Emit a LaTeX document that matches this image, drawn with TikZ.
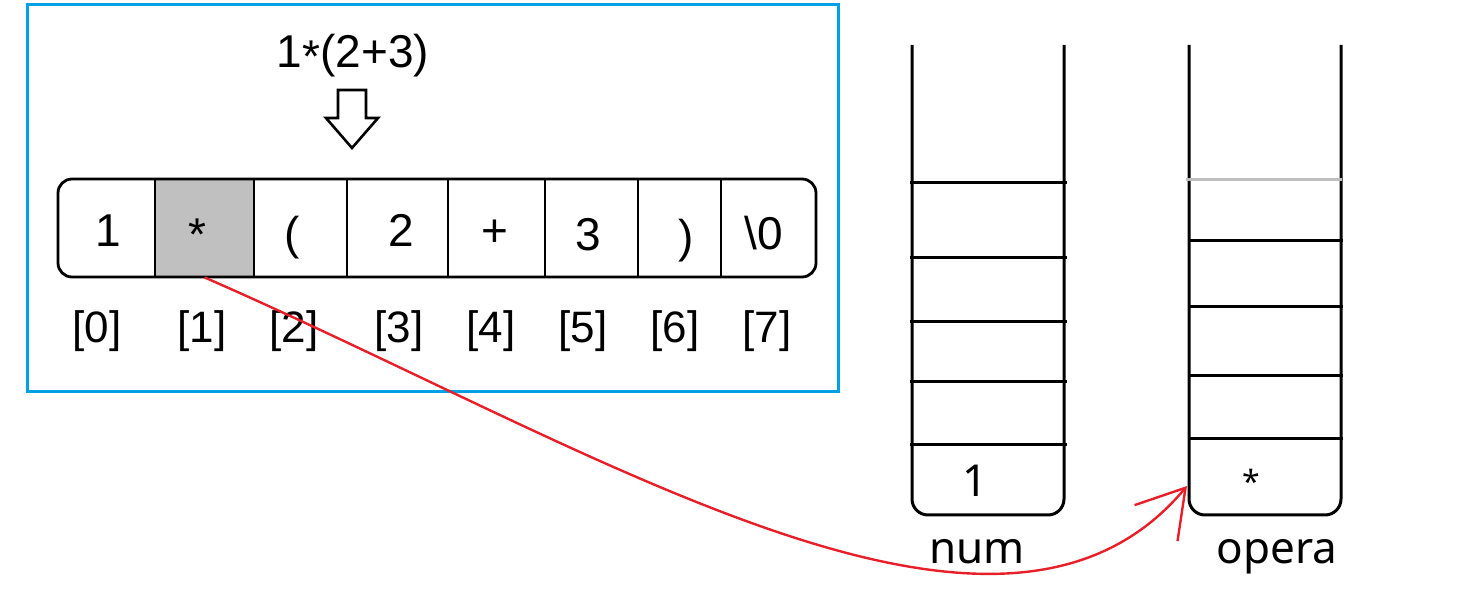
\documentclass[tikz,border=0pt]{standalone}
\usepackage{fontspec}
\setmainfont{Liberation Sans}
\newfontfamily\stackfont{Noto Sans}
\usepackage{tikz}
\usetikzlibrary{arrows.meta}
\definecolor{frameblue}{RGB}{0,160,230}
\definecolor{cellgray}{RGB}{192,192,192}
\definecolor{linkred}{RGB}{232,30,40}
\definecolor{topgray}{RGB}{190,190,190}

\begin{document}
\begin{tikzpicture}[
  x=0.5pt, y=-0.5pt,
  txt/.style={anchor=base, inner sep=0pt, font=\fontsize{23}{23}\selectfont},
  idx/.style={anchor=base, inner sep=0pt, font=\fontsize{22}{22}\selectfont},
  stk/.style={anchor=base, inner sep=0pt, font=\stackfont\fontsize{22}{22}\selectfont},
  boxline/.style={draw, line width=1.4pt},
  stackline/.style={line width=1.5pt}
]
\useasboundingbox (0,0) rectangle (1464,614);

% frame round the char array
\draw[frameblue, line width=1.5pt] (27,5) rectangle (838,392);
\node[txt] (expr) at (353,68) {1\raisebox{-0.1em}{*}(2+3)};
\draw[line width=1.3pt] (338,90) -- (366,90) -- (366,118) -- (378,118)
  -- (352,148) -- (326,118) -- (338,118) -- cycle;

% the array
\node[fill=cellgray, minimum width=49.5pt, minimum height=49pt, inner sep=0pt] (cell1) at (204.5,228) {};
\draw[boxline, rounded corners=7pt] (58,179) rectangle (816,277);
\foreach \x in {155,254,347,448,545,638,721}
  \draw[boxline] (\x,179) -- (\x,277);
\foreach \i/\x/\y/\t in {0/108/247/1, 1/197/251/{*}, 2/292/250/{(}, 3/401/247/2,
    4/495/247/+, 5/588/251/3, 6/686/253/{)}, 7/764/250/{\textbackslash 0}}
  \node[txt] (c\i) at (\x,\y) {\t};
\foreach \i/\x in {0/97,1/202,2/294,3/399,4/491,5/583,6/675,7/767}
  \node[idx] (i\i) at (\x,343) {[\i]};

% stack num
\draw[stackline, rounded corners=8pt] (912,45) |- (1064,515) -- (1064,45);
\foreach \y in {183,258,322,382,445}
  \draw[stackline] (910,\y) -- (1067,\y);
\node[stk] (numtop) at (975,497) {1};
\node[stk] (numname) at (977,564) {num};

% stack opera
\draw[stackline, rounded corners=8pt] (1189,45) |- (1341,515) -- (1341,45);
\draw[stackline, topgray] (1186,180) -- (1342,180);
\foreach \y in {241,307,376,439}
  \draw[stackline] (1189,\y) -- (1343,\y);
\node[stk, font=\stackfont\fontsize{16}{16}\selectfont] (optop) at (1251,494) {*};
\node[stk] (opname) at (1277,564) {opera};
\coordinate (opin) at (1187,486);

% push '*'
\draw[linkred, line width=1.2pt, -{Straight Barb[length=23pt, width=28pt]}]
  (cell1.south) .. controls (600,450) and (1000,710) .. (opin);
\end{tikzpicture}
\end{document}
